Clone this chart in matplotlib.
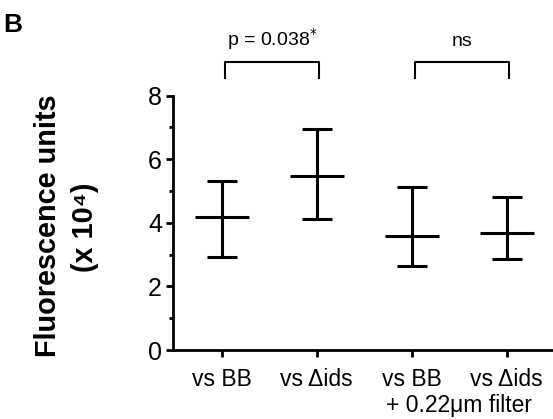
import matplotlib.pyplot as plt
from matplotlib.ticker import MultipleLocator

plt.rcParams['font.family'] = ['Liberation Sans', 'DejaVu Sans']

# fluorescence summary per condition (x 10^4)
groups = ['vs BB', 'vs \u0394ids', 'vs BB', 'vs \u0394ids']
means = [4.19, 5.48, 3.60, 3.67]
upper = [5.32, 6.95, 5.14, 4.82]
lower = [2.92, 4.11, 2.64, 2.87]
comparisons = [(0, 1, 'p = 0.038$^{*}$'), (2, 3, 'ns')]

fig = plt.figure(figsize=(5.53, 4.19), dpi=100)
ax = fig.add_axes([173 / 553, 69 / 419, 380 / 553, 254.4 / 419])

x = list(range(len(groups)))
err = [[m - lo for m, lo in zip(means, lower)],
       [hi - m for m, hi in zip(means, upper)]]
ax.errorbar(x, means, yerr=err, fmt='none', ecolor='black',
            elinewidth=2.2, capsize=10.5, capthick=2.2)
for xi, m in zip(x, means):
    ax.plot([xi - 0.285, xi + 0.285], [m, m], color='black', lw=2.2,
            solid_capstyle='butt')

ax.set_xlim(-0.513, 3.487)
ax.set_ylim(0, 8)
ax.set_xticks(x)
ax.set_xticklabels(groups, fontsize=16.5)
ax.yaxis.set_major_locator(MultipleLocator(2))
ax.yaxis.set_minor_locator(MultipleLocator(1))
ax.tick_params(axis='y', labelsize=18, width=2, length=5, pad=3)
ax.tick_params(axis='y', which='minor', width=2, length=3)
ax.tick_params(axis='x', width=2, length=5, pad=8)
for side in ['top', 'right']:
    ax.spines[side].set_visible(False)
for side in ['left', 'bottom']:
    ax.spines[side].set_linewidth(2)

ax.text(2.5, -1.95, '+ 0.22\u03bcm filter', ha='center', va='baseline',
        fontsize=16.5)

# significance brackets above the plot
for a, b, label in comparisons:
    ax.plot([a + 0.03, a + 0.03, b + 0.02, b + 0.02],
            [8.55, 9.06, 9.06, 8.55], color='black', lw=1.5, clip_on=False)
    ax.text((a + b) / 2 + 0.03, 9.56, label, ha='center', va='baseline',
            fontsize=14)

fig.text(48 / 553, 1 - 226 / 419, 'Fluorescence units', rotation=90,
         ha='center', va='center', fontsize=20.8, fontweight='bold')
fig.text(85 / 553, 1 - 227 / 419, '(x 10\u2074)', rotation=90,
         ha='center', va='center', fontsize=20.8, fontweight='bold')
fig.text(3 / 553, 1 - 32 / 419, 'B', ha='left', va='baseline',
         fontsize=19, fontweight='bold')

fig.savefig('out.png', dpi=100)
